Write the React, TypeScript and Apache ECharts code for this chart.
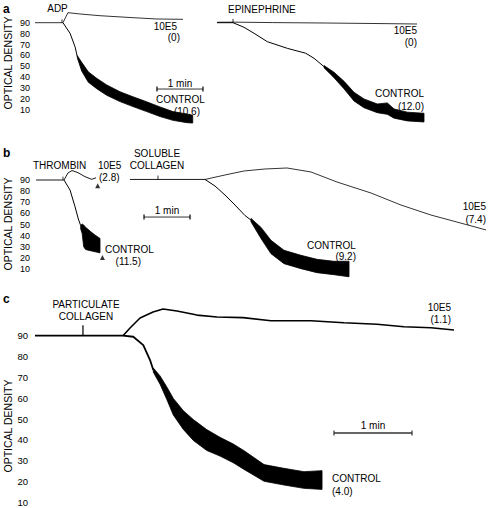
import React, { useEffect, useRef } from "react";
import * as echarts from "echarts";

const FONT = "'Liberation Sans', Arial, Helvetica, sans-serif";

// y-axis tick labels (optical density)
const yTicks = [90, 80, 70, 60, 50, 40, 30, 20, 10];

// ---------- Panel a (time in s, optical density) ----------
const adp10E5 = [[0, 90], [36.5, 90], [43, 99.2], [58.7, 98], [84.8, 96.4], [127.8, 94.6], [159.1, 93.4], [193, 93.1]];
const adpControl = [[36.5, 90], [45.7, 80.3], [52.2, 68], [55.2, 58.8]];
// [t, lower, upper] of the noisy trace
const adpControlBand = [
  [55.2, 57.8, 59.8], [60.9, 45.7, 53.7], [69.5, 35.5, 45], [80.5, 29.5, 39], [93.5, 23.5, 33],
  [110.9, 17.7, 26.7], [127.8, 13.1, 22.1], [145.7, 8.5, 17.5], [163, 4, 12.8], [180, 0.5, 8.5],
  [197.9, -1.6, 6.4], [205.7, -2, 5.2],
];
const epi10E5 = [[237.4, 90.4], [258.3, 90.5], [310, 90.1], [380, 89.7], [450, 89.2], [498.3, 88.8]];
const epiControl = [[237.4, 90], [258.3, 90], [272.6, 85.8], [285.7, 80.3], [303, 72.6], [329.1, 66.5], [353.1, 62], [363.9, 57.4], [377, 49.7]];
const epiControlBand = [
  [377, 48.7, 50.7], [390, 39.6, 44.6], [403, 29.4, 36.4], [416.1, 18.2, 26.2], [429.1, 12.1, 20.1],
  [446.5, 7.5, 15.5], [459.5, 6, 16.5], [468.3, 2.5, 11], [485.6, 0, 8], [507.4, -1, 7],
];

// ---------- Panel b ----------
const thr10E5 = [[1.3, 90], [37.8, 90], [43, 96.3], [48.3, 98.5], [56.1, 96.6], [65.2, 93], [74, 90.6], [79.6, 92]];
const thrControl = [[37.8, 90], [45.7, 81], [52.2, 66], [56.5, 55], [59.6, 49]];
const thrControlBand = [[59.6, 46, 49], [61.5, 42, 50.5], [63.5, 30, 49.5], [66, 27.5, 47.5], [72, 26.5, 44], [78.3, 25.5, 40.5], [84.8, 24.5, 37.5]];
const solBaseline = [[123.9, 90.5], [221.7, 90.5]];
const sol10E5 = [[221.7, 90.5], [247.8, 94.5], [272.6, 98.1], [300, 99.9], [328.7, 100.8], [360, 97.2], [393.9, 88.2], [438.3, 78.3], [477.4, 67.5], [516.5, 58.5], [550.4, 52.2], [588.3, 45.1]];
const solControl = [[221.7, 90.5], [234.8, 84.6], [247.8, 76.5], [260.9, 67.5], [274, 58], [281.7, 54]];
const solControlBand = [
  [281.7, 52.5, 55.5], [294.8, 37.4, 47.4], [307.8, 23.8, 35.8], [324.8, 14.8, 26.8], [347, 10.3, 22.3],
  [367.8, 6.7, 18.7], [390, 4.9, 16.9], [409.6, 3, 17],
];
const thrMarkers = [[81.8, 84.9], [88, 20.3]];

// ---------- Panel c ----------
const partBaseline = [[0, 90], [67.7, 90]];
const part10E5 = [[67.7, 90], [73.1, 93.7], [80.8, 98.5], [90.8, 101.4], [98.5, 102.8], [109.2, 101.9], [124.6, 99.9], [140, 99], [160, 98.7], [181.5, 97.2], [212.3, 97.2], [237.7, 96.2], [263.1, 95.5], [283.8, 94.3], [304.6, 93.8], [322.3, 92.7]];
const partControl = [[67.7, 90], [75.6, 89.5], [83.3, 85.5], [88.5, 78.3], [91, 73.5]];
const partControlBand = [
  [91, 72.5, 74.5], [96.2, 66.7, 70.7], [101.3, 59.5, 65.5], [106.4, 51.9, 59.9], [114.1, 45, 54],
  [121.8, 39.7, 49.7], [132.1, 34.9, 44.9], [142.3, 32.2, 41.2], [152.5, 29, 38], [160.8, 25.8, 34.8],
  [176.2, 20.1, 28.1], [191.5, 18.3, 26.3], [206.9, 16.7, 24.7], [220.8, 16.2, 25.2],
];

// injection marks [t, from, to]
const ticksA = [[35.2, 90, 93], [258.3, 90, 93.5]];
const ticksB = [[36.5, 90, 93], [160.4, 90.5, 94]];
const ticksC = [[36.9, 90, 95]];

// 1-min scale bars: [start t, level]
const barA = [159.1, 29.2];
const barB = [142.2, 56.7];
const barC = [230, 43.3];

const line = (data: number[][], idx: number, width = 1, color = "#000") => ({
  type: "line",
  xAxisIndex: idx,
  yAxisIndex: idx,
  data,
  symbol: "none",
  clip: false,
  silent: true,
  lineStyle: { color, width },
});

const band = (rows: number[][], idx: number) => ({
  type: "custom",
  xAxisIndex: idx,
  yAxisIndex: idx,
  data: rows,
  encode: { x: 0, y: [1, 2] },
  clip: false,
  silent: true,
  renderItem: (params: any, api: any) => {
    if (params.dataIndex !== 0) return null;
    const up = rows.map((r) => api.coord([r[0], r[2]]));
    const lo = rows.map((r) => api.coord([r[0], r[1]])).reverse();
    return {
      type: "polygon",
      shape: { points: up.concat(lo) },
      style: { fill: "#000", stroke: "#000", lineWidth: 0.8 },
    };
  },
});

const scaleBar = (b: number[], idx: number, width: number, color: string) => ({
  type: "line",
  xAxisIndex: idx,
  yAxisIndex: idx,
  data: [[b[0], b[1]], [b[0] + 60, b[1]]],
  symbol: "rect",
  symbolSize: [1.2, 5],
  clip: false,
  silent: true,
  itemStyle: { color },
  lineStyle: { color, width },
});

const tickSeries = (ticks: number[][], idx: number, width: number) =>
  ticks.map((t) => line([[t[0], t[1]], [t[0], t[2]]], idx, width));

const yAxis = (idx: number, min: number, size: number, margin: number) => ({
  gridIndex: idx,
  type: "value",
  min,
  max: 110,
  interval: 10,
  axisLine: { show: false },
  axisTick: { show: false },
  splitLine: { show: false },
  axisLabel: {
    color: "#000",
    fontSize: size,
    fontFamily: FONT,
    margin,
    formatter: (v: number) => (yTicks.includes(v) ? String(v) : ""),
  },
});

type Txt = [string, number, number, string?, number?, boolean?, boolean?];
// [text, x, y, align, fontSize, bold, rotated]
const texts: Txt[] = [
  ["a", 3, 8.5, "left", 12, true],
  ["ADP", 57.5, 8.5, "center"],
  ["10E5", 177, 26, "right"],
  ["(0)", 180, 37, "right"],
  ["1 min", 180, 83, "center"],
  ["CONTROL", 156, 99, "left"],
  ["(10.6)", 200, 111, "right"],
  ["EPINEPHRINE", 228, 9, "left"],
  ["10E5", 417, 30, "right"],
  ["(0)", 417, 42, "right"],
  ["CONTROL", 424, 93, "right"],
  ["(12.0)", 424, 106, "right"],
  ["OPTICAL DENSITY", 8, 63, "center", 10.5, false, true],

  ["b", 3, 153, "left", 12, true],
  ["THROMBIN", 33, 165, "left"],
  ["10E5", 98, 165, "left"],
  ["(2.8)", 99, 177, "left"],
  ["SOLUBLE", 157, 153, "center"],
  ["COLLAGEN", 157, 165, "center"],
  ["1 min", 167, 210, "center"],
  ["CONTROL", 105, 249, "left"],
  ["(11.5)", 141, 261, "right"],
  ["CONTROL", 307, 245, "left"],
  ["(9.2)", 356, 256, "right"],
  ["10E5", 486, 206, "right"],
  ["(7.4)", 486, 219, "right"],
  ["OPTICAL DENSITY", 8, 224, "center", 10.5, false, true],

  ["c", 3, 299, "left", 12, true],
  ["PARTICULATE", 86, 304, "center"],
  ["COLLAGEN", 86, 316, "center"],
  ["10E5", 451, 307, "right"],
  ["(1.1)", 451, 319, "right"],
  ["1 min", 373, 425, "center"],
  ["CONTROL", 332, 478, "left"],
  ["(4.0)", 332, 491, "left"],
  ["OPTICAL DENSITY", 8, 426, "center", 10.5, false, true],
];

export default function App() {
  const ref = useRef<HTMLDivElement>(null);
  useEffect(() => {
    if (!ref.current) return;
    const chart = echarts.init(ref.current, undefined, { renderer: "svg" });
    const option: any = {
      animation: false,
      backgroundColor: "#fff",
      grid: [
        { left: 35, right: 0, top: 0.88, height: 130.92 },
        { left: 35, right: 0, top: 157.75, height: 133.5 },
        { left: 35, right: 0, top: 294.05, height: 208.25 },
      ],
      xAxis: [
        { gridIndex: 0, type: "value", min: 0, max: 590.87, show: false },
        { gridIndex: 1, type: "value", min: 0, max: 590.87, show: false },
        { gridIndex: 2, type: "value", min: 0, max: 348.46, show: false },
      ],
      yAxis: [yAxis(0, -10, 9, 5), yAxis(1, -10, 9, 5), yAxis(2, 10, 9.5, 7)],
      series: [
        line(adp10E5, 0, 0.8),
        line(adpControl, 0, 1),
        band(adpControlBand, 0),
        line(epi10E5, 0, 0.8),
        line(epiControl, 0, 1),
        band(epiControlBand, 0),
        ...tickSeries(ticksA, 0, 0.8),
        scaleBar(barA, 0, 0.8, "#000"),

        line(thr10E5, 1, 0.9),
        line(thrControl, 1, 1),
        band(thrControlBand, 1),
        line(solBaseline, 1, 0.9),
        line(sol10E5, 1, 0.8),
        line(solControl, 1, 1),
        band(solControlBand, 1),
        ...tickSeries(ticksB, 1, 0.8),
        scaleBar(barB, 1, 0.8, "#000"),
        {
          type: "scatter",
          xAxisIndex: 1,
          yAxisIndex: 1,
          data: thrMarkers,
          symbol: "triangle",
          symbolSize: 5,
          itemStyle: { color: "#000" },
          silent: true,
        },

        line(partBaseline, 2, 1.8),
        line(part10E5, 2, 1.6),
        line(partControl, 2, 1.8),
        band(partControlBand, 2),
        ...tickSeries(ticksC, 2, 1.2),
        scaleBar(barC, 2, 1.6, "#333"),
      ],
      graphic: texts.map(([t, x, y, align = "left", size = 10, bold = false, rot = false]) => ({
        type: "text",
        x,
        y,
        rotation: rot ? Math.PI / 2 : 0,
        silent: true,
        style: {
          text: t,
          align,
          verticalAlign: "middle",
          fontSize: size,
          fontWeight: bold ? "bold" : "normal",
          fontFamily: FONT,
          fill: "#000",
        },
      })),
    };
    chart.setOption(option);
    return () => chart.dispose();
  }, []);
  return (
    <div
      ref={ref}
      style={{ position: "fixed", left: 0, top: 0, width: 488, height: 508, background: "#fff" }}
    />
  );
}
